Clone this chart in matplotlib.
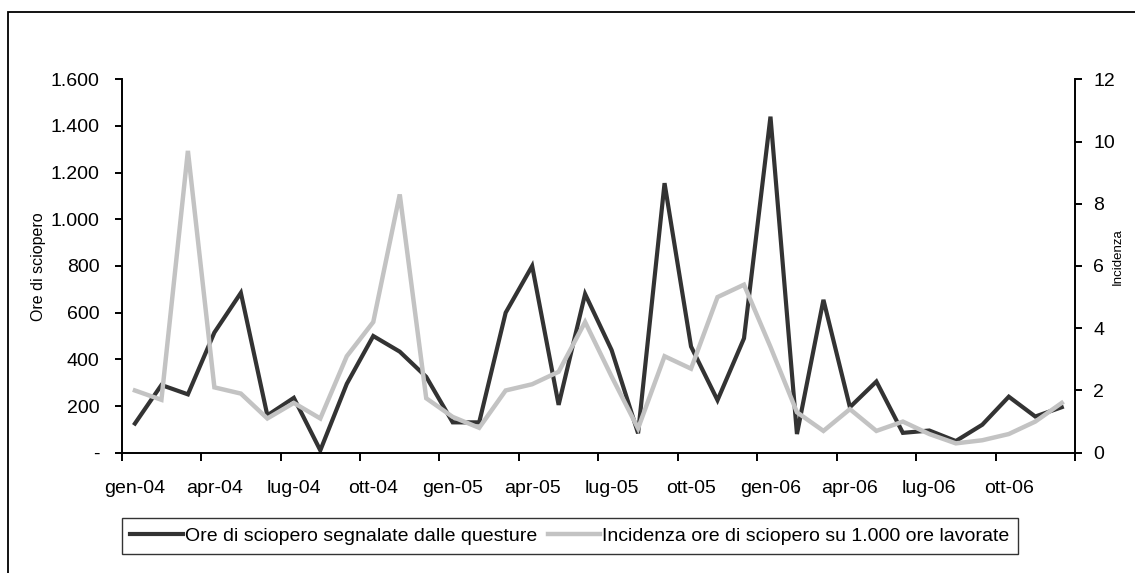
import matplotlib
matplotlib.use('Agg')
import matplotlib.pyplot as plt
from matplotlib.patches import Rectangle
import numpy as np

plt.rcParams['font.family'] = ['Liberation Sans', 'DejaVu Sans']

# monthly data, gen-04 .. dic-06
ore = [125, 290, 250, 515, 685, 160, 235, 10, 295, 500, 433, 325,
       130, 130, 600, 800, 205, 680, 440, 83, 1155, 455, 225, 490,
       1440, 80, 655, 195, 305, 85, 95, 50, 120, 240, 155, 195]
incidenza = [2.0, 1.7, 9.7, 2.1, 1.9, 1.1, 1.6, 1.1, 3.1, 4.2, 8.3, 1.75,
             1.15, 0.8, 2.0, 2.2, 2.6, 4.2, 2.45, 0.78, 3.1, 2.7, 5.0, 5.4,
             3.4, 1.3, 0.7, 1.4, 0.7, 1.0, 0.6, 0.3, 0.4, 0.6, 1.0, 1.6]
x_labels = ['gen-04', 'apr-04', 'lug-04', 'ott-04', 'gen-05', 'apr-05',
            'lug-05', 'ott-05', 'gen-06', 'apr-06', 'lug-06', 'ott-06']
left_ticks = [0, 200, 400, 600, 800, 1000, 1200, 1400, 1600]
left_labels = ['-', '200', '400', '600', '800', '1.000', '1.200', '1.400', '1.600']
right_ticks = [0, 2, 4, 6, 8, 10, 12]
name_ore = 'Ore di sciopero segnalate dalle questure'
name_inc = 'Incidenza ore di sciopero su 1.000 ore lavorate'

W, H = 1135, 573
fig = plt.figure(figsize=(W / 100, H / 100), dpi=100)
ax = fig.add_axes([121.7 / W, 1 - 452.7 / H, 953.3 / W, 373.4 / H])
ax2 = ax.twinx()

n = len(ore)
x = np.arange(n)
l1, = ax.plot(x, ore, color='#333333', lw=3.0, solid_joinstyle='miter')
l2, = ax2.plot(x, incidenza, color='#c3c3c3', lw=3.2, solid_joinstyle='miter')

ax.set_xlim(-0.5, n - 0.5)
ax.set_ylim(0, 1600)
ax2.set_ylim(0, 12)

for a in (ax, ax2):
    for s in a.spines.values():
        s.set_linewidth(1.4)
    a.spines['top'].set_visible(False)
ax.spines['right'].set_visible(False)
ax2.spines['left'].set_visible(False)
ax2.spines['bottom'].set_visible(False)

ax.set_xticks(np.arange(-0.5, n, 3), minor=True)
ax.set_xticks(np.arange(0, n, 3))
ax.set_xticklabels(x_labels)
ax.tick_params(axis='x', which='minor', length=6, width=1.4, direction='out')
ax.tick_params(axis='x', which='major', length=0, pad=20, labelsize=14)

ax.set_yticks(left_ticks)
ax.set_yticklabels(left_labels)
ax.tick_params(axis='y', length=5, width=1.4, direction='out', pad=11, labelsize=14)
ax2.set_yticks(right_ticks)
ax2.tick_params(axis='y', length=5, width=1.4, direction='out', pad=8, labelsize=14)

fig.text(39 / W, 1 - 267 / H, 'Ore di sciopero', rotation=90,
         ha='center', va='center', fontsize=11.5)
fig.text(1117.5 / W, 1 - 257 / H, 'Incidenza', rotation=90,
         ha='center', va='center', fontsize=9.5)

leg = fig.legend([l1, l2], [name_ore, name_inc], loc='center',
                 bbox_to_anchor=(570 / W, 1 - 536 / H), ncol=2, fontsize=14,
                 frameon=True, fancybox=False, edgecolor='black',
                 handlelength=2.7, handletextpad=0.1, columnspacing=0.55,
                 borderpad=0.45, borderaxespad=0)
leg.get_frame().set_linewidth(1.0)

# outer chart border
fig.patches.append(Rectangle((8 / W, -0.1), 1.2, 1.1 - 12 / H,
                             transform=fig.transFigure, fill=False,
                             edgecolor='black', lw=1.3))

fig.savefig('out.png', dpi=100)
